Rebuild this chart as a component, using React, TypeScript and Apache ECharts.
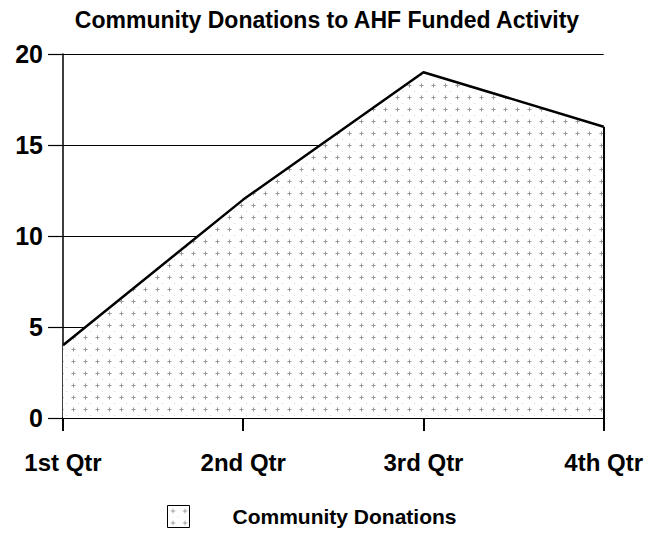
import React, { useEffect, useRef } from "react";
import * as echarts from "echarts";

const categories = ["1st Qtr", "2nd Qtr", "3rd Qtr", "4th Qtr"];
const donations = [4, 12, 19, 16];
const seriesName = "Community Donations";
const titleText = "Community Donations to AHF Funded Activity";

function makePattern(): HTMLCanvasElement {
  const c = document.createElement("canvas");
  c.width = 12;
  c.height = 12;
  const ctx = c.getContext("2d")!;
  ctx.fillStyle = "#ffffff";
  ctx.fillRect(0, 0, 12, 12);
  ctx.fillStyle = "#9a9a9a";
  ctx.fillRect(4, 5, 3, 1);
  ctx.fillRect(5, 4, 1, 3);
  ctx.fillStyle = "#c4c4c4";
  ctx.fillRect(3, 5, 1, 1);
  ctx.fillRect(7, 5, 1, 1);
  ctx.fillRect(5, 3, 1, 1);
  ctx.fillRect(5, 7, 1, 1);
  ctx.fillStyle = "#d6d6d6";
  ctx.fillRect(10, 11, 1, 1);
  return c;
}

const font = "Arial, 'Liberation Sans', sans-serif";

export default function App() {
  const ref = useRef<HTMLDivElement>(null);
  useEffect(() => {
    if (!ref.current) return;
    const chart = echarts.init(ref.current, undefined, { renderer: "svg" });
    const pattern = makePattern();
    const lastIdx = categories.length - 1;
    chart.setOption({
      animation: false,
      backgroundColor: "#ffffff",
      title: {
        text: titleText,
        left: "center",
        top: 0,
        padding: 0,
        textStyle: { fontFamily: font, fontWeight: "bold", fontSize: 23, color: "#000" },
      },
      grid: { left: 55, right: 34, top: 46, bottom: 110 },
      legend: {
        top: 497,
        left: 159,
        padding: 0,
        itemWidth: 22,
        itemHeight: 22,
        icon: "rect",
        data: [
          {
            name: seriesName,
            itemStyle: { color: { image: pattern, repeat: "repeat" }, borderColor: "#000", borderWidth: 1 },
          },
        ],
        textStyle: {
          fontFamily: font,
          fontWeight: "bold",
          fontSize: 21,
          color: "#000",
          padding: [0, 0, 0, 38],
        },
      },
      xAxis: {
        type: "category",
        data: categories,
        boundaryGap: false,
        axisLine: { lineStyle: { color: "#000", width: 2 } },
        axisTick: { show: true, length: 13, lineStyle: { color: "#000", width: 2 } },
        axisLabel: {
          color: "#000",
          fontFamily: font,
          fontWeight: "bold",
          fontSize: 24,
          margin: 32,
        },
        splitLine: { show: false },
      },
      yAxis: {
        type: "value",
        min: 0,
        max: 20,
        interval: 5,
        axisLine: { show: true, lineStyle: { color: "#000", width: 1.5 } },
        axisTick: { show: true, length: 15, lineStyle: { color: "#000", width: 1.2 } },
        axisLabel: {
          color: "#000",
          fontFamily: font,
          fontWeight: "bold",
          fontSize: 25,
          margin: 20,
        },
        splitLine: { show: true, lineStyle: { color: "#000", width: 1.2 } },
      },
      series: [
        {
          name: seriesName,
          type: "line",
          data: donations,
          symbol: "none",
          lineStyle: { color: "#000", width: 2.5 },
          itemStyle: { color: { image: pattern, repeat: "repeat" } },
          areaStyle: { color: { image: pattern, repeat: "repeat" }, opacity: 1 },
          markLine: {
            silent: true,
            symbol: "none",
            label: { show: false },
            lineStyle: { color: "#000", width: 2, type: "solid" },
            data: [
              [
                { coord: [categories[lastIdx], 0] },
                { coord: [categories[lastIdx], donations[lastIdx]] },
              ],
            ],
          },
        },
      ],
    });
    return () => chart.dispose();
  }, []);
  return <div ref={ref} style={{ width: 638, height: 520 }} />;
}
